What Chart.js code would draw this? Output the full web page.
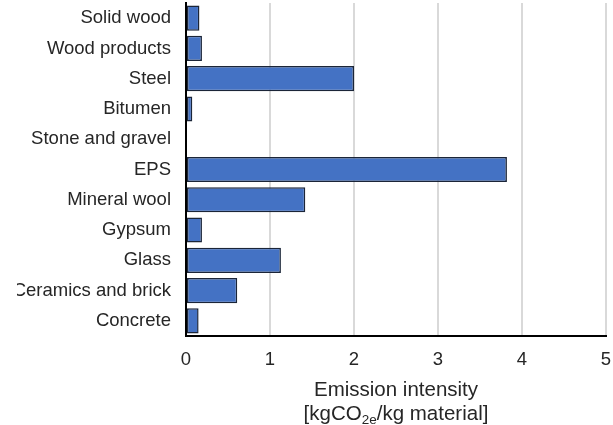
<!DOCTYPE html>
<html>
<head>
<meta charset="utf-8">
<script src="https://cdn.jsdelivr.net/npm/chart.js@4/dist/chart.umd.min.js"></script>
<style>
  html, body { margin: 0; padding: 0; background: #ffffff; }
  #wrap { width: 613px; height: 425px; }
</style>
</head>
<body>
<div id="wrap"><canvas id="c" width="613" height="425"></canvas></div>
<script>
// Building materials, listed top to bottom
const materials = [
  'Solid wood', 'Wood products', 'Steel', 'Bitumen', 'Stone and gravel',
  'EPS', 'Mineral wool', 'Gypsum', 'Glass', 'Ceramics and brick', 'Concrete'
];
// Emission intensity, kgCO2e per kg material
const intensity = [0.16, 0.19, 2.0, 0.075, 0, 3.82, 1.42, 0.19, 1.13, 0.61, 0.15];
// X axis range and tick step
const xTicks = [0, 1, 2, 3, 4, 5];

const FONT = '"Liberation Sans", Arial, sans-serif';
const TEXT = '#262626';

// Figure frame: everything left of the frame edge is cut off
const FRAME_LEFT = 17;
const frameClip = {
  id: 'frameClip',
  beforeDraw(chart) {
    const { ctx, width, height } = chart;
    ctx.save();
    ctx.beginPath();
    ctx.rect(FRAME_LEFT, 0, width - FRAME_LEFT, height);
    ctx.clip();
  },
  afterDraw(chart) {
    chart.ctx.restore();
  }
};

// Two-line axis title with a subscript "2e"
const axisTitle = {
  id: 'axisTitle',
  afterDraw(chart) {
    const { ctx, chartArea } = chart;
    const cx = (chartArea.left + chartArea.right) / 2;
    ctx.save();
    ctx.fillStyle = TEXT;
    ctx.textBaseline = 'alphabetic';
    ctx.font = '20.5px ' + FONT;
    ctx.textAlign = 'center';
    ctx.fillText('Emission intensity', cx, 396);

    const a = '[kgCO', sub = '2e', b = '/kg material]';
    const big = '20.5px ' + FONT, small = '13.5px ' + FONT;
    ctx.font = big; const wa = ctx.measureText(a).width, wb = ctx.measureText(b).width;
    ctx.font = small; const ws = ctx.measureText(sub).width;
    let x = cx - (wa + ws + wb) / 2;
    const y = 420;
    ctx.textAlign = 'left';
    ctx.font = big; ctx.fillText(a, x, y); x += wa;
    ctx.font = small; ctx.fillText(sub, x, y + 4); x += ws;
    ctx.font = big; ctx.fillText(b, x, y);
    ctx.restore();
  }
};

new Chart(document.getElementById('c'), {
  type: 'bar',
  data: {
    labels: materials,
    datasets: [{
      data: intensity,
      backgroundColor: '#4472C4',
      borderColor: '#1b2538',
      borderWidth: 1.5,
      borderSkipped: false,
      categoryPercentage: 1.0,
      barPercentage: 0.83
    }]
  },
  options: {
    indexAxis: 'y',
    responsive: false,
    animation: false,
    devicePixelRatio: 1,
    layout: { padding: { top: 3, right: 7, left: 0, bottom: 0 } },
    plugins: { legend: { display: false }, tooltip: { enabled: false } },
    scales: {
      x: {
        min: xTicks[0],
        max: xTicks[xTicks.length - 1],
        afterBuildTicks(scale) { scale.ticks = xTicks.map(v => ({ value: v })); },
        afterFit(scale) {
          scale.height = 89;
          scale.paddingLeft = 0;
          scale.paddingRight = 0;
        },
        grid: { color: '#d9d9d9', lineWidth: 2, drawTicks: false },
        border: { display: true, color: '#000000', width: 2 },
        ticks: { color: TEXT, font: { family: FONT, size: 18.5 }, padding: 13, maxRotation: 0 }
      },
      y: {
        afterFit(scale) {
          scale.width = 186;
          scale.paddingTop = 0;
          scale.paddingBottom = 0;
        },
        grid: { display: false, drawTicks: false },
        border: { display: true, color: '#000000', width: 2 },
        ticks: { color: TEXT, font: { family: FONT, size: 18.5 }, padding: 15, autoSkip: false }
      }
    }
  },
  plugins: [frameClip, axisTitle]
});
</script>
</body>
</html>
